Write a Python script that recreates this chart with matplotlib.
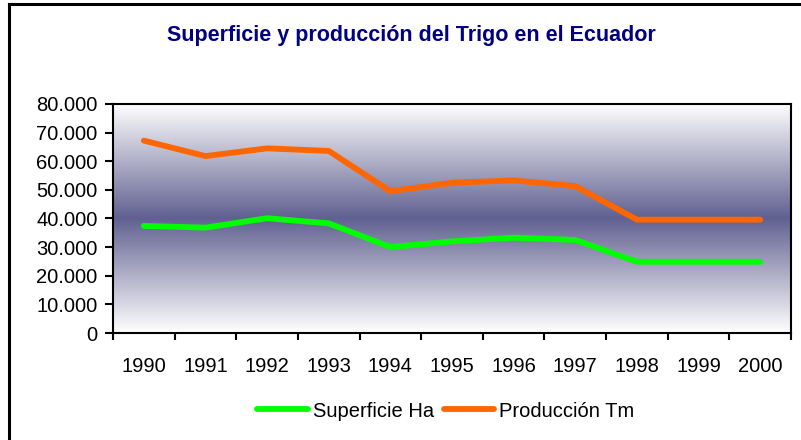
import numpy as np
import matplotlib
matplotlib.use('Agg')
import matplotlib.pyplot as plt
from matplotlib.lines import Line2D

years = ['1990', '1991', '1992', '1993', '1994', '1995', '1996', '1997', '1998', '1999', '2000']
superficie = [37400, 36800, 40100, 38300, 30000, 32000, 33300, 32500, 24900, 24900, 24900]
produccion = [67200, 61800, 64500, 63600, 49500, 52500, 53300, 51300, 39600, 39600, 39600]

plt.rcParams['font.family'] = ['Liberation Sans', 'DejaVu Sans']

fig = plt.figure(figsize=(8.01, 4.40), dpi=100)
W, H = 801, 440
# plot area in pixels: left 113, right 791, top 104, bottom 333
ax = fig.add_axes([113 / W, 1 - 333 / H, (791 - 113) / W, (333 - 104) / H])

# vertical gradient background (white -> slate blue -> white)
dark = np.array([0.38, 0.38, 0.57])
t = np.abs(np.linspace(-1, 1, 256))[:, None]
grad = dark + (1 - dark) * t
grad = np.repeat(grad[:, None, :], 2, axis=1)
ax.imshow(grad, extent=[-0.5, 10.5, 0, 80000], aspect='auto', zorder=0)

x = np.arange(len(years))
ax.plot(x, superficie, color='#00ff00', lw=4.2, solid_capstyle='round', solid_joinstyle='round', label='Superficie Ha', zorder=3)
ax.plot(x, produccion, color='#ff6600', lw=4.2, solid_capstyle='round', solid_joinstyle='round', label='Producción Tm', zorder=3)

ax.set_xlim(-0.5, 10.5)
ax.set_ylim(0, 80000)
ax.set_yticks(np.arange(0, 80001, 10000))
ax.set_yticklabels(['0'] + ['{:d}.000'.format(v) for v in range(10, 81, 10)])
ax.set_xticks(x)
ax.set_xticklabels(years)
ax.set_xticks(np.arange(-0.5, 11, 1), minor=True)
ax.tick_params(axis='x', which='major', length=0, pad=17, labelsize=14.5)
ax.tick_params(axis='x', which='minor', length=5, width=1.5, direction='out')
ax.tick_params(axis='y', length=6, width=1.5, direction='out', labelsize=14.5, pad=5)
for s in ax.spines.values():
    s.set_linewidth(1.5)

fig.text(411 / W, 1 - 36 / H, 'Superficie y producción del Trigo en el Ecuador',
         ha='center', va='center', fontsize=15.5, fontweight='bold', color='#000080')

fig.legend(loc='center', bbox_to_anchor=(446 / W, 1 - 411 / H), ncol=2, frameon=False,
           fontsize=14.5, handlelength=2.5, handletextpad=0.25, columnspacing=0.5)

# chart frame (only top and left edges visible in the crop)
fig.add_artist(Line2D([9 / W, 9 / W], [0, 1 - 4 / H], color='black', lw=2.2, transform=fig.transFigure))
fig.add_artist(Line2D([9 / W, 1], [1 - 4 / H, 1 - 4 / H], color='black', lw=2.2, transform=fig.transFigure))

fig.savefig('out.png', dpi=100)
